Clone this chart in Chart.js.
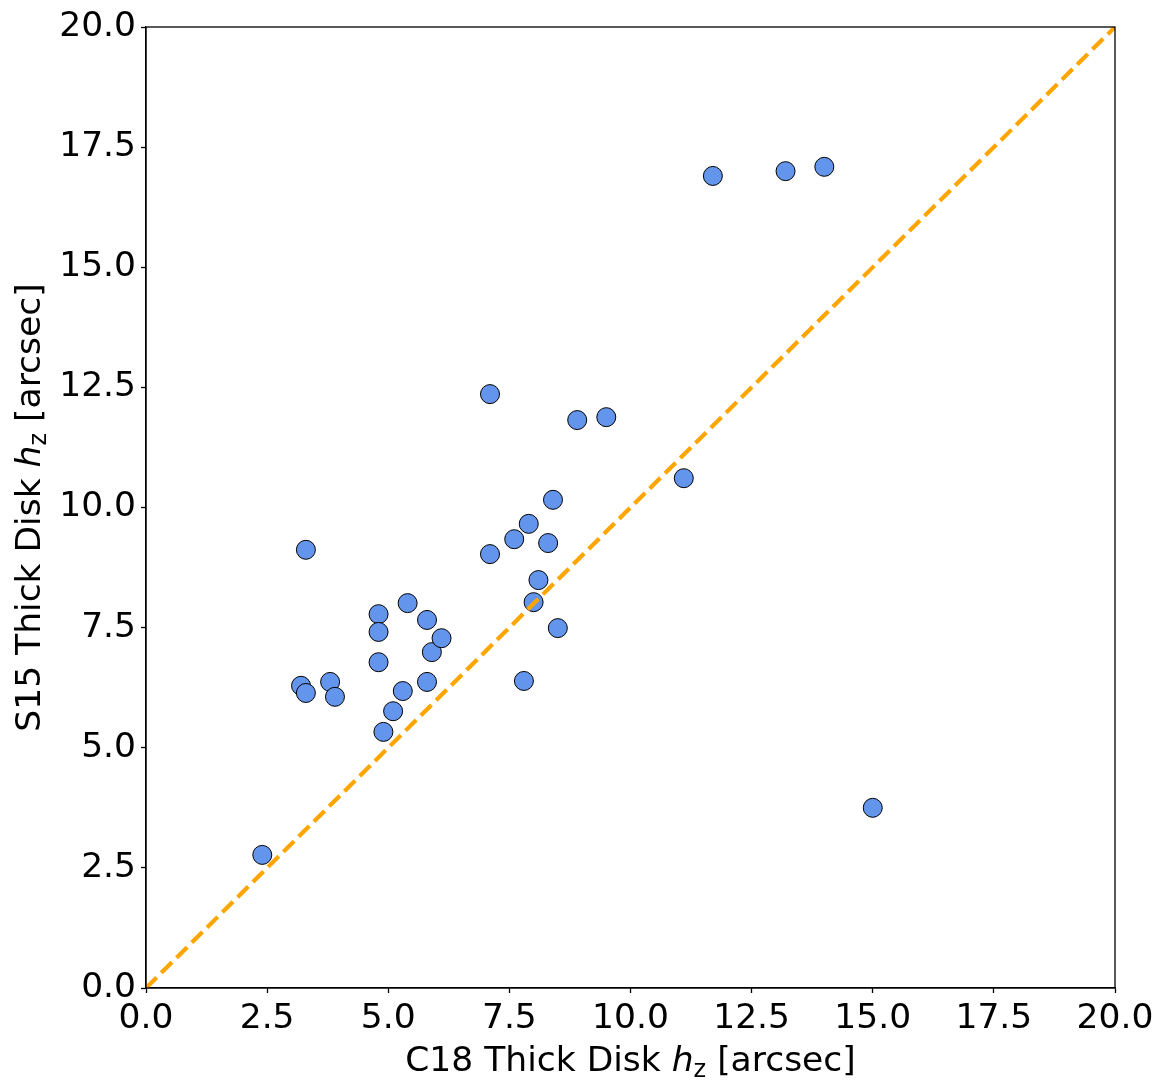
<!DOCTYPE html>
<html>
<head>
<meta charset="utf-8">
<script src="https://cdn.jsdelivr.net/npm/chart.js@4/dist/chart.umd.min.js"></script>
<style>
  html, body { margin: 0; padding: 0; background: #fff; }
  #wrap { width: 1165px; height: 1091px; }
</style>
</head>
<body>
<div id="wrap"><canvas id="c" width="1165" height="1091"></canvas></div>
<script>
// C18 thick disk scale height vs S15 thick disk scale height (arcsec)
var c18Hz = [2.4, 3.2, 3.3, 3.3, 3.8, 3.9, 4.8, 4.8, 4.8, 4.9, 5.1, 5.3, 5.4, 5.8, 5.8, 5.9, 6.1,
             7.1, 7.1, 7.6, 7.8, 7.9, 8.0, 8.1, 8.3, 8.4, 8.5, 8.9, 9.5, 11.1, 11.7, 13.2, 14.0, 15.0];
var s15Hz = [2.77, 6.29, 6.14, 9.12, 6.37, 6.06, 7.78, 7.41, 6.78, 5.33, 5.76, 6.18, 8.01, 7.66, 6.37, 6.99, 7.28,
             12.36, 9.03, 9.34, 6.39, 9.66, 8.03, 8.49, 9.26, 10.16, 7.49, 11.82, 11.88, 10.61, 16.90, 17.00, 17.09, 3.75];
var oneToOne = [0, 20];
var tickValues = [0, 2.5, 5, 7.5, 10, 12.5, 15, 17.5, 20];

var FONT = '"DejaVu Sans", sans-serif';

var points = c18Hz.map(function(x, i) { return { x: x, y: s15Hz[i] }; });
var line = oneToOne.map(function(v) { return { x: v, y: v }; });

// axis titles with italic h and subscript z, plus the frame
var decor = {
  id: 'decor',
  afterDraw: function(chart) {
    var ctx = chart.ctx, a = chart.chartArea;
    ctx.save();
    ctx.strokeStyle = '#000';
    ctx.lineWidth = 1.3;
    ctx.strokeRect(a.left, a.top, a.right - a.left, a.bottom - a.top);

    function label(prefix, cx, cy, rot) {
      var parts = [
        { t: prefix + ' Thick Disk ', f: '34.5px ' + FONT, dy: 0 },
        { t: 'h', f: 'italic 34.5px ' + FONT, dy: 0 },
        { t: 'z', f: '24px ' + FONT, dy: 6 },
        { t: ' [arcsec]', f: '34.5px ' + FONT, dy: 0 }
      ];
      var w = 0;
      parts.forEach(function(p) { ctx.font = p.f; p.w = ctx.measureText(p.t).width; w += p.w; });
      ctx.save();
      ctx.translate(cx, cy);
      ctx.rotate(rot);
      ctx.fillStyle = '#000';
      ctx.textBaseline = 'alphabetic';
      ctx.textAlign = 'left';
      var x = -w / 2;
      parts.forEach(function(p) { ctx.font = p.f; ctx.fillText(p.t, x, 12 + p.dy); x += p.w; });
      ctx.restore();
    }
    label('C18', (a.left + a.right) / 2, 1059, 0);
    label('S15', 28, (a.top + a.bottom) / 2, -Math.PI / 2);
    ctx.restore();
  }
};

function axis(extra) {
  var o = {
    type: 'linear',
    min: 0,
    max: 20,
    afterBuildTicks: function(s) { s.ticks = tickValues.map(function(v) { return { value: v }; }); },
    grid: { display: true, drawOnChartArea: false, drawTicks: true, tickLength: 5, tickColor: '#000', tickWidth: 1.3 },
    border: { display: true, color: '#000', width: 1.3 },
    ticks: {
      color: '#000',
      padding: 5,
      font: { family: FONT, size: 34.5 },
      callback: function(v) { return v.toFixed(1); }
    }
  };
  for (var k in extra) o[k] = extra[k];
  return o;
}

new Chart(document.getElementById('c').getContext('2d'), {
  data: {
    datasets: [
      {
        type: 'line',
        data: line,
        borderColor: '#FFA500',
        borderWidth: 4.2,
        borderDash: [15, 6.5],
        pointRadius: 0,
        fill: false,
        order: 0
      },
      {
        type: 'scatter',
        data: points,
        backgroundColor: '#6495ED',
        borderColor: '#000',
        borderWidth: 1,
        pointRadius: 9.5,
        order: 1
      }
    ]
  },
  options: {
    responsive: false,
    animation: false,
    layout: { padding: { top: 27, right: 50, left: 0, bottom: 0 } },
    plugins: { legend: { display: false }, tooltip: { enabled: false } },
    scales: {
      x: axis({
        position: 'bottom',
        afterFit: function(s) { s.height = 103; }
      }),
      y: axis({
        position: 'left',
        afterFit: function(s) { s.width = 146; }
      })
    }
  },
  plugins: [decor]
});
</script>
</body>
</html>
